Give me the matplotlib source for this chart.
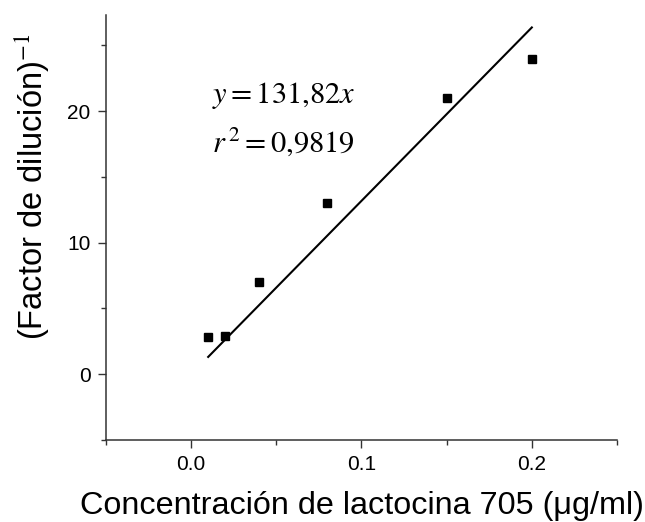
import matplotlib.pyplot as plt
from matplotlib.ticker import MultipleLocator

plt.rcParams['font.family'] = ['Liberation Sans', 'DejaVu Sans']
plt.rcParams['mathtext.fontset'] = 'stix'

# concentration (ug/ml) vs inverse dilution factor
concentracion = [0.01, 0.02, 0.04, 0.08, 0.15, 0.2]
factor_inv = [2.8, 2.9, 7.0, 13.0, 21.0, 24.0]
pendiente = 131.82
r2 = 0.9819

fig = plt.figure(figsize=(6.45, 5.22), dpi=100)
ax = fig.add_axes([0.1643, 0.157, 0.7923, 0.814])

ax.plot(concentracion, factor_inv, linestyle='none', marker='s', markersize=5.6,
        color='black', zorder=3)

x_fit = [concentracion[0], concentracion[-1]]
y_fit = [pendiente * x for x in x_fit]
ax.plot(x_fit, y_fit, color='black', lw=1.5)

ax.set_xlim(-0.05, 0.25)
ax.set_ylim(-5, 27.3)
ax.xaxis.set_major_locator(MultipleLocator(0.1))
ax.xaxis.set_minor_locator(MultipleLocator(0.05))
ax.yaxis.set_major_locator(MultipleLocator(10))
ax.yaxis.set_minor_locator(MultipleLocator(5))
ax.xaxis.set_major_formatter(plt.FuncFormatter(lambda v, p: f'{v:.1f}'))

for side in ['top', 'right']:
    ax.spines[side].set_visible(False)
for side in ['left', 'bottom']:
    ax.spines[side].set_color('#333333')
    ax.spines[side].set_linewidth(1.1)

ax.tick_params(which='major', length=6, width=1, color='#333333', labelsize=15, pad=5)
ax.tick_params(which='minor', length=3.5, width=1, color='#333333')

ax.set_xlabel('Concentración de lactocina 705 (μg/ml)', fontsize=23.3, labelpad=12)
ax.set_ylabel('(Factor de dilución)$^{-1}$', fontsize=23.5)
ax.yaxis.set_label_coords(-0.105, 0.596)

pend_txt = f'{pendiente:.2f}'.replace('.', '{,}')
r2_txt = f'{r2:.4f}'.replace('.', '{,}')
ax.text(0.012, 20.6, rf'$y = {pend_txt}x$', fontsize=22, va='baseline')
ax.text(0.012, 16.9, rf'$r^{{\,2}} = {r2_txt}$', fontsize=22, va='baseline')

plt.savefig('out.png')
